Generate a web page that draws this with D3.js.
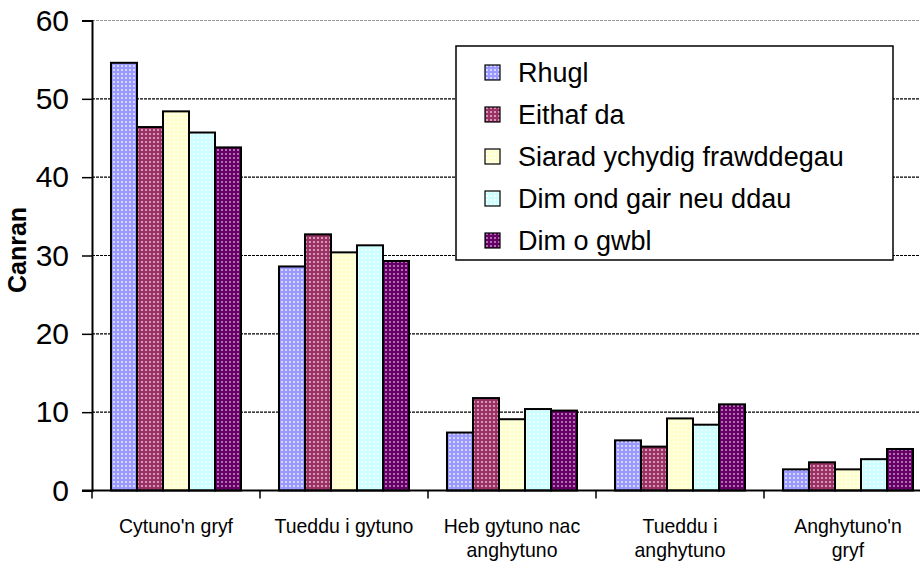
<!DOCTYPE html>
<html>
<head>
<meta charset="utf-8">
<script src="https://cdn.jsdelivr.net/npm/d3@7"></script>
<style>
  body { margin: 0; background: #fff; }
  svg { display: block; font-family: Arial, "Liberation Sans", sans-serif; }
</style>
</head>
<body>
<svg id="chart"></svg>
<script>
const width = 920, height = 563;

// data
const categories = ["Cytuno'n gryf", "Tueddu i gytuno", "Heb gytuno nac anghytuno", "Tueddu i anghytuno", "Anghytuno'n gryf"];
const categoryLines = [["Cytuno'n gryf"], ["Tueddu i gytuno"], ["Heb gytuno nac", "anghytuno"], ["Tueddu i", "anghytuno"], ["Anghytuno'n", "gryf"]];
const series = ["Rhugl", "Eithaf da", "Siarad ychydig frawddegau", "Dim ond gair neu ddau", "Dim o gwbl"];
const rhugl = [54.6, 28.6, 7.4, 6.4, 2.7];
const eithafDa = [46.4, 32.7, 11.8, 5.6, 3.6];
const siarad = [48.4, 30.4, 9.1, 9.2, 2.7];
const dimOnd = [45.7, 31.3, 10.4, 8.4, 4.0];
const dimOGwbl = [43.8, 29.3, 10.2, 11.0, 5.3];
const values = [rhugl, eithafDa, siarad, dimOnd, dimOGwbl];
const yTicks = [0, 10, 20, 30, 40, 50, 60];

const fills = ["#9999FF", "#993366", "#FFFFCC", "#CCFFFF", "#660066"];
const dots = ["#D6D6FF", "#D996B6", "#FFFFF0", "#F0FFFF", "#B070B0"];

const margin = { left: 92, top: 20.5, bottom: 72.5 };
const plotRight = 932;

const svg = d3.select("#chart")
    .attr("width", width)
    .attr("height", height);

// patterns
const defs = svg.append("defs");
fills.forEach(function (c, i) {
    const p = defs.append("pattern")
        .attr("id", "pat" + i)
        .attr("patternUnits", "userSpaceOnUse")
        .attr("width", 4)
        .attr("height", 4);
    p.append("rect").attr("width", 4).attr("height", 4).attr("fill", c);
    p.append("rect").attr("x", 1).attr("y", 1).attr("width", 2).attr("height", 2).attr("fill", dots[i]);
});

const x0 = d3.scaleBand()
    .domain(categories)
    .range([margin.left, plotRight]);

const x1 = d3.scaleBand()
    .domain(series)
    .range([0, x0.bandwidth()])
    .paddingOuter(0.73);

const y = d3.scaleLinear()
    .domain([0, 60])
    .range([height - margin.bottom, margin.top]);

// gridlines
svg.append("g")
    .selectAll("line")
    .data(yTicks.filter(function (d) { return d > 0; }))
    .enter().append("line")
    .attr("x1", margin.left)
    .attr("x2", plotRight)
    .attr("y1", function (d) { return y(d); })
    .attr("y2", function (d) { return y(d); })
    .attr("stroke", function (d) { return d === 60 ? "#999" : "#000"; })
    .attr("stroke-width", 1.2)
    .attr("stroke-dasharray", "3,1");

// bars
const group = svg.append("g")
    .selectAll("g")
    .data(categories)
    .enter().append("g")
    .attr("transform", function (d) { return "translate(" + x0(d) + ",0)"; });

group.selectAll("rect")
    .data(function (d, ci) {
        return series.map(function (s, si) { return { s: s, si: si, v: values[si][ci] }; });
    })
    .enter().append("rect")
    .attr("x", function (d) { return x1(d.s); })
    .attr("width", x1.bandwidth())
    .attr("y", function (d) { return y(d.v); })
    .attr("height", function (d) { return y(0) - y(d.v); })
    .attr("fill", function (d) { return "url(#pat" + d.si + ")"; })
    .attr("stroke", "#000")
    .attr("stroke-width", 2);

// y axis
const yAxis = svg.append("g")
    .attr("transform", "translate(" + margin.left + ",0)")
    .call(d3.axisLeft(y).tickValues(yTicks).tickSize(10).tickPadding(13));
yAxis.select(".domain").attr("stroke-width", 2);
yAxis.selectAll(".tick line").attr("stroke-width", 1.5);
yAxis.selectAll("text")
    .attr("font-size", 30)
    .attr("font-family", "Arial, 'Liberation Sans', sans-serif")
    .attr("fill", "#000");

// x axis
const xAxis = svg.append("g")
    .attr("transform", "translate(0," + y(0) + ")");
xAxis.append("line")
    .attr("x1", margin.left - 10)
    .attr("x2", width)
    .attr("stroke", "#000")
    .attr("stroke-width", 2);
xAxis.selectAll(".xt")
    .data(categories)
    .enter().append("line")
    .attr("class", "xt")
    .attr("x1", function (d) { return x0(d); })
    .attr("x2", function (d) { return x0(d); })
    .attr("y1", 0)
    .attr("y2", 8)
    .attr("stroke", "#000")
    .attr("stroke-width", 1.5);

const labels = svg.append("g")
    .selectAll("text")
    .data(categories)
    .enter().append("text")
    .attr("text-anchor", "middle")
    .attr("font-size", 20.5)
    .attr("fill", "#000")
    .attr("transform", function (d) { return "translate(" + (x0(d) + x0.bandwidth() / 2) + ",533) scale(0.95,1)"; });

labels.selectAll("tspan")
    .data(function (d, i) { return categoryLines[i]; })
    .enter().append("tspan")
    .attr("x", 0)
    .attr("dy", function (d, i) { return i === 0 ? 0 : 24; })
    .text(function (d) { return d; });

// y title
svg.append("text")
    .attr("transform", "translate(26,250) rotate(-90)")
    .attr("text-anchor", "middle")
    .attr("font-size", 25)
    .attr("font-weight", "bold")
    .text("Canran");

// legend
const legend = svg.append("g");
legend.append("rect")
    .attr("x", 456)
    .attr("y", 46)
    .attr("width", 437)
    .attr("height", 214)
    .attr("fill", "#fff")
    .attr("stroke", "#000")
    .attr("stroke-width", 1.5);

const item = legend.selectAll(".item")
    .data(series)
    .enter().append("g")
    .attr("class", "item")
    .attr("transform", function (d, i) { return "translate(485," + (72 + i * 42) + ")"; });

item.append("rect")
    .attr("x", 0)
    .attr("y", -7)
    .attr("width", 15)
    .attr("height", 15)
    .attr("fill", function (d, i) { return "url(#pat" + i + ")"; })
    .attr("stroke", "#000")
    .attr("stroke-width", 1.2);

item.append("text")
    .attr("x", 33)
    .attr("y", 10)
    .attr("font-size", 27)
    .text(function (d) { return d; });
</script>
</body>
</html>
